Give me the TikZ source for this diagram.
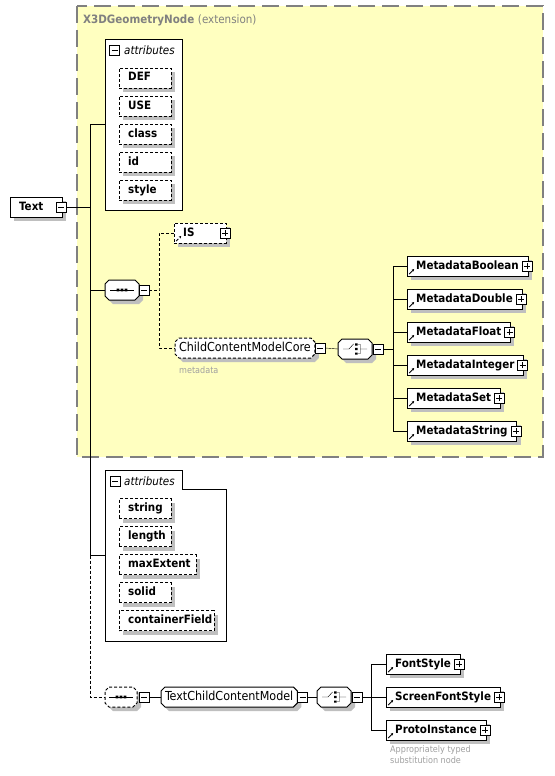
\documentclass[tikz,border=0pt]{standalone}
\usepackage{fontspec}
\setmainfont{DejaVu Sans Condensed}
\usetikzlibrary{positioning,shadows,arrows.meta}
\definecolor{extfill}{HTML}{FFFFC0}
\definecolor{extline}{HTML}{808080}
\definecolor{notegrey}{HTML}{A0A0A0}
\pgfdeclarelayer{bg}
\pgfdeclarelayer{back}
\pgfsetlayers{bg,back,main}
\hyphenpenalty=10000
\def\boxfont{\fontsize{11.5}{13}\selectfont\bfseries}
\def\grpfont{\fontsize{12.4}{14}\selectfont}
\def\hdrfont{\fontsize{11.5}{13}\selectfont\itshape}
\def\notefont{\fontsize{9}{11}\selectfont}
\def\chamf#1[#2]{\begin{pgfonlayer}{back}\draw[line width=1pt, fill=white, dropgrey, #2] ([xshift=4pt]#1.north west) -- ([xshift=-4pt]#1.north east) -- ([yshift=-4pt]#1.north east) -- ([yshift=4pt]#1.south east) -- ([xshift=-4pt]#1.south east) -- ([xshift=4pt]#1.south west) -- ([yshift=4pt]#1.south west) -- ([yshift=-4pt]#1.north west) -- cycle;\end{pgfonlayer}}
\def\seqmark#1{\draw[shift={(#1.center)}] (-12pt,0pt) -- (12pt,0pt);
	\fill[shift={(#1.center)}] (-5.3pt,-1.3pt) rectangle (-2.7pt,1.3pt) (-1.3pt,-1.3pt) rectangle (1.3pt,1.3pt) (2.7pt,-1.3pt) rectangle (5.3pt,1.3pt);}
\def\choicemark#1{\draw[shift={(#1.center)}] (-12pt,0pt) -- (-6pt,0pt) -- (-1.5pt,5pt) (3pt,4.5pt) -- (5.5pt,4.5pt) -- (5.5pt,-4.5pt) -- (3pt,-4.5pt) (5.5pt,0pt) -- (12pt,0pt);
	\fill[shift={(#1.center)}] (0pt,3.5pt) rectangle (2.6pt,5.7pt) (0pt,-1.1pt) rectangle (2.6pt,1.1pt) (0pt,-5.7pt) rectangle (2.6pt,-3.5pt);}
\tikzset{
	dropgrey/.style={drop shadow={shadow xshift=4pt, shadow yshift=-4pt, fill=black!25, opacity=1}},
	optline/.style={dash pattern=on 3pt off 2pt},
	tog/.style={draw, fill=white, minimum size=10pt, inner sep=0pt},
	minus/.style={tog, path picture={\draw ([xshift=2pt]path picture bounding box.west) -- ([xshift=-2pt]path picture bounding box.east);}},
	plus/.style={tog, path picture={\draw ([xshift=2pt]path picture bounding box.west) -- ([xshift=-2pt]path picture bounding box.east); \draw ([yshift=2pt]path picture bounding box.south) -- ([yshift=-2pt]path picture bounding box.north);}},
	refarrow/.style={path picture={\draw[line width=0.8pt, -{Stealth[length=2.5pt, width=2.5pt]}] ([shift={(2pt,2pt)}]path picture bounding box.south west) -- ++(5pt,5pt);}},
	fixbox/.style={draw, fill=white, anchor=west, inner xsep=9pt, inner ysep=0pt, minimum height=20pt, text height=8.5pt, text depth=2.5pt, font=\boxfont, text width=#1, align=left, dropgrey},
	fixbox/.default=34pt,
	attrbox/.style={fixbox=#1, optline},
	attrbox/.default=34pt,
	elem/.style={draw, fill=white, anchor=west, inner xsep=9pt, inner ysep=0pt, minimum height=20pt, text height=8.5pt, text depth=2.5pt, font=\boxfont, dropgrey, refarrow},
	group/.style={anchor=west, inner xsep=4pt, inner ysep=0pt, outer sep=0pt, minimum height=20pt, text height=9pt, text depth=3pt, font=\grpfont},
	comp/.style={anchor=west, minimum width=34pt, minimum height=20pt, inner sep=0pt, outer sep=0pt},
	hdr/.style={anchor=base west, inner sep=0pt, font=\hdrfont},
	note/.style={inner sep=0pt, font=\notefont, text=notegrey}
}

\begin{document}
\begin{tikzpicture}[x=1pt, y=-1pt, line width=1pt]
			%%%%% START %%%%%
			\useasboundingbox (0,0) rectangle (554,776);
			
			\begin{pgfonlayer}{bg}
			\draw[fill=extfill, draw=extline, line width=1.5pt, dash pattern=on 17pt off 7pt] (77,6) rectangle (543,457);
			\end{pgfonlayer}
			\node[anchor=base west, inner sep=0pt, font=\boxfont, text=extline] (ext-title) at (83,24) {X3DGeometryNode \textmd{(extension)}};
			
			\node[fixbox] (text) at (10,207) {Text};
			\node[minus] (text-t) at ([xshift=-1pt]text.east) {};
			\coordinate (trunk) at (90,207);
			
			\node[draw, fill=white, minimum width=77pt, minimum height=171pt, outer sep=0pt, anchor=north west] (attrs) at (105,39) {};
			\node[minus] (attrs-t) at (114.5,50.5) {};
			\node[hdr] (attrs-h) at (124,54.5) {attributes};
			\foreach \a [count=\i] in {DEF,USE,class,id,style}
				\node[attrbox] (attr\i) at (119,50+28*\i) {\a};
			
			\node[comp] (seq1) at (105,290) {};
			\chamf{seq1}[]
			\seqmark{seq1}
			\node[minus, right=0pt of seq1] (seq1-t) {};
			\coordinate (seq1-b) at (159,290);
			\node[attrbox, refarrow] (is) at (174,233) {IS};
			\node[plus] (is-t) at ([xshift=-1pt]is.east) {};
			\node[group] (ccm) at (175,348) {ChildContentModelCore};
			\chamf{ccm}[optline]
			\node[minus, right=0pt of ccm] (ccm-t) {};
			\node[note, anchor=base west] (ccm-n) at (179,373.5) {metadata};
			\node[comp] (ch1) at (338,349) {};
			\chamf{ch1}[]
			\choicemark{ch1}
			\node[minus, right=1pt of ch1] (ch1-t) {};
			\coordinate (ch1-b) at (393,349);
			\foreach \m [count=\i] in {Boolean,Double,Float,Integer,Set,String} {
				\node[elem] (meta\i) at (407,233+33*\i) {Metadata\m};
				\node[plus] (meta\i-t) at ([xshift=-1pt]meta\i.east) {};
				\draw (ch1-b |- meta\i.west) -- (meta\i.west);
			}
			\draw (ch1-b |- meta1.west) -- (ch1-b |- meta6.west);
			\draw (ch1-t.east) -- (ch1-b);
			\draw (ccm-t.east) -- (ch1.west);
			\draw[optline] (seq1-t.east) -- (seq1-b);
			\draw[optline] (is.west) -| (seq1-b) |- (ccm.west);
			
			\node[minimum width=121pt, minimum height=171pt, outer sep=0pt, inner sep=0pt, anchor=north west] (attrs2) at (105,470) {};
			\draw[fill=white] (attrs2.north west) -- ++(77,0) -- ++(0,19) -- ++(44,0) -- (attrs2.south east) -- (attrs2.south west) -- cycle;
			\node[minus] (attrs2-t) at (115,481) {};
			\node[hdr] (attrs2-h) at (124,485.5) {attributes};
			\foreach \a/\w [count=\i] in {string/34pt,length/34pt,maxExtent/59pt,solid/34pt,containerField/77pt}
				\node[attrbox=\w] (tattr\i) at (119,480.5+28*\i) {\a};
			
			\node[comp, minimum width=32pt] (seq2) at (105,697) {};
			\chamf{seq2}[optline]
			\seqmark{seq2}
			\node[minus, right=2pt of seq2] (seq2-t) {};
			\node[group] (tccm) at (161,697) {TextChildContentModel};
			\chamf{tccm}[]
			\node[minus, right=0pt of tccm] (tccm-t) {};
			\node[comp] (ch2) at (317,697) {};
			\chamf{ch2}[]
			\choicemark{ch2}
			\node[minus, right=1pt of ch2] (ch2-t) {};
			\coordinate (ch2-b) at (371,697);
			\foreach \f [count=\i] in {FontStyle,ScreenFontStyle,ProtoInstance} {
				\node[elem] (font\i) at (386,631+33*\i) {\f};
				\node[plus] (font\i-t) at ([xshift=-1pt]font\i.east) {};
				\draw (ch2-b |- font\i.west) -- (font\i.west);
			}
			\draw (ch2-b |- font1.west) -- (ch2-b |- font3.west);
			\draw (ch2-t.east) -- (ch2-b);
			\draw (tccm-t.east) -- (ch2.west);
			\draw (seq2-t.east) -- (tccm.west);
			\node[note, anchor=north west, align=left] (proto-n) at (390,745) {Appropriately typed\\substitution node};
			
			\draw (text-t.east) -- (trunk);
			\draw (trunk |- attrs.west) -- (attrs.west);
			\draw (trunk |- seq1.west) -- (seq1.west);
			\draw (trunk |- attrs.west) -- (trunk |- attrs2.west) -- (attrs2.west);
			\draw[optline] (trunk |- attrs2.west) |- (seq2.west);
			
			%%%%% END %%%%%
\end{tikzpicture}
\end{document}
